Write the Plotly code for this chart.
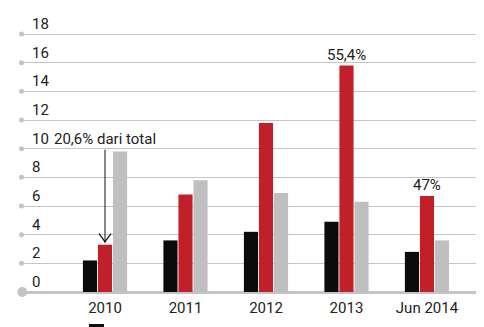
import plotly.graph_objects as go

categories = ["2010", "2011", "2012", "2013", "Jun 2014"]
series_black = [2.2, 3.6, 4.2, 4.9, 2.8]
series_red = [3.3, 6.8, 11.8, 15.8, 6.7]
series_gray = [9.8, 7.8, 6.9, 6.3, 3.6]
y_ticks = [0, 2, 4, 6, 8, 10, 12, 14, 16, 18]

FONT = "Roboto"
FS = 15
W, H = 484, 327
ML, MR, MT, MB = 20, 8, 20, 35
XR = [-1.056, 4.609]
YR = [0, 18.98]
PW = W - ML - MR
PH = H - MT - MB

fig = go.Figure()
for vals, col in [(series_black, "#0b0b0b"), (series_red, "#c1202b"), (series_gray, "#bfbfbf")]:
    fig.add_trace(go.Bar(x=list(range(len(categories))), y=vals, marker_color=col,
                         marker_line_width=0, showlegend=False, hoverinfo="skip"))

# gridline dots at left
dot_x = XR[0] + (XR[1] - XR[0]) * 1.5 / PW
fig.add_trace(go.Scatter(x=[dot_x] * (len(y_ticks) - 1), y=y_ticks[1:], mode="markers",
                         marker=dict(color="#c4c4c4", size=5), cliponaxis=False,
                         showlegend=False, hoverinfo="skip"))
fig.add_trace(go.Scatter(x=[dot_x + 0.01], y=[0], mode="markers",
                         marker=dict(color="#c4c4c4", size=10), cliponaxis=False,
                         showlegend=False, hoverinfo="skip"))

tfont = dict(family=FONT, size=FS, color="#222")
annotations = []
for t in y_ticks:
    annotations.append(dict(x=10 / PW, xref="paper", y=t / YR[1], yref="paper",
                            text=str(t), showarrow=False, xanchor="left", yanchor="bottom",
                            yshift=-1, font=tfont))

annotations.append(dict(x=0, y=series_red[0], xref="x", yref="y", ax=0, ay=-95,
                        text="20,6% dari total", showarrow=True, arrowhead=0, arrowcolor="#111",
                        arrowwidth=1, standoff=2, yanchor="bottom", font=tfont))
annotations.append(dict(x=3, y=series_red[3], xref="x", yref="y", text="55,4%", showarrow=False,
                        yanchor="bottom", yshift=0, font=tfont))
annotations.append(dict(x=4, y=series_red[4], xref="x", yref="y", text="47%", showarrow=False,
                        yanchor="bottom", yshift=0, font=tfont))

shapes = [
    dict(type="rect", xref="paper", yref="paper",
         x0=(89 - ML) / PW, x1=(104 - ML) / PW,
         y0=-(324 - (H - MB)) / PH, y1=-(330 - (H - MB)) / PH,
         fillcolor="#111", line_width=0),
    # open chevron arrowhead
    dict(type="path", xref="x", yref="y", xsizemode="pixel", ysizemode="pixel",
         xanchor=0, yanchor=series_red[0], path="M -6 11 L 0 3 L 6 11",
         line=dict(color="#111", width=1.2)),
]

fig.update_layout(
    width=W, height=H, margin=dict(l=ML, r=MR, t=MT, b=MB),
    paper_bgcolor="white", plot_bgcolor="white",
    barmode="group", bargap=0.44, bargroupgap=0.06,
    annotations=annotations, shapes=shapes,
    xaxis=dict(range=XR, tickmode="array", tickvals=list(range(len(categories))),
               ticktext=categories, showgrid=False, zeroline=False, showline=False,
               ticks="", ticklabelstandoff=5, tickfont=tfont),
    yaxis=dict(range=YR, tickvals=y_ticks, showticklabels=False, showgrid=True,
               gridcolor="#c4c4c4", gridwidth=1, zeroline=True, zerolinecolor="#c4c4c4",
               zerolinewidth=3, ticks=""),
)

fig.write_html("out.html")
